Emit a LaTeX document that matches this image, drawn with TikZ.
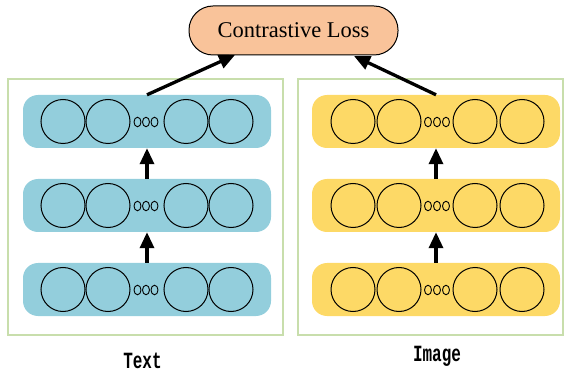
\documentclass[tikz,border=0pt]{standalone}
\usepackage{fontspec}
\usepackage{graphicx}
\setmainfont{Liberation Serif}
\newfontfamily\lblfont{Liberation Mono}
\usetikzlibrary{arrows.meta}
\definecolor{barblue}{RGB}{147,206,220}
\definecolor{baryellow}{RGB}{253,217,102}
\definecolor{losspeach}{RGB}{249,195,154}
\definecolor{framegreen}{RGB}{200,222,172}
\tikzset{
  frame/.style={draw=framegreen, line width=1.2pt, fill=none},
  bar/.style={rectangle, draw=none, rounded corners=15pt, minimum width=248pt, minimum height=53pt, inner sep=0pt},
  cell/.style={circle, draw=black, line width=1pt, minimum size=44pt, inner sep=0pt},
  dot/.style={ellipse, draw=black, line width=0.9pt, minimum width=7pt, minimum height=9.5pt, inner sep=0pt},
  arr/.style={line width=3.3pt, -{Triangle[length=16pt,width=14pt]}, shorten >=0pt},
  lossbox/.style={rectangle, rounded corners=24pt, draw=black, line width=1pt, fill=losspeach, minimum width=209pt, minimum height=49pt, inner sep=0pt, font=\fontsize{22.5}{26}\selectfont},
  lbl/.style={anchor=base, font=\lblfont\bfseries\fontsize{16}{18}\selectfont, inner sep=0pt}
}
\usetikzlibrary{shapes.geometric}
\begin{document}
\begin{tikzpicture}[x=1pt,y=-1pt]
\useasboundingbox (0,0) rectangle (565,374);
% frames
\draw[frame] (8,79) rectangle (283,335);
\draw[frame] (298,79) rectangle (563,335);
% loss
\node[lossbox] (loss) at (293.5,30.5) {Contrastive Loss};
% bars
\foreach \i/\y in {1/121.5,2/205.5,3/289.5}{
  \node[bar, fill=barblue] (tb\i) at (147,\y) {};
  \node[bar, fill=baryellow] (ib\i) at (436,\y) {};
  \foreach \j/\x in {1/63,2/108,3/186,4/231}{
    \node[cell] (tc\i\j) at (\x,\y) {};
  }
  \foreach \j/\x in {1/353,2/399,3/475,4/522}{
    \node[cell] (ic\i\j) at (\x,\y) {};
  }
  \foreach \j/\x in {1/137.5,2/146,3/154.5}{
    \node[dot] (td\i\j) at (\x,\y+0.5) {};
  }
  \foreach \j/\x in {1/428,2/437,3/446}{
    \node[dot] (id\i\j) at (\x,\y+0.5) {};
  }
}
% vertical arrows
\draw[arr] (tb3.north) -- (tb2.south);
\draw[arr] (tb2.north) -- (tb1.south);
\draw[arr] (ib3.north) -- (ib2.south);
\draw[arr] (ib2.north) -- (ib1.south);
% to loss
\coordinate (lt) at (235,55);
\coordinate (rt) at (354,56);
\draw[arr] (tb1.north) -- (lt);
\draw[arr] (ib1.north) -- (rt);
% labels
\node[lbl] (textlbl) at (142.5,368) {\scalebox{1}[1.45]{Text}};
\node[lbl] (imagelbl) at (437,361) {\scalebox{1}[1.45]{Image}};
\end{tikzpicture}
\end{document}
